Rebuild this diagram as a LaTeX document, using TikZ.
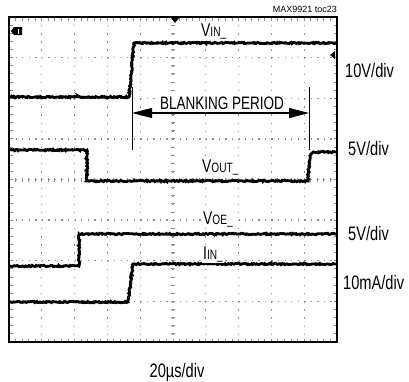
\documentclass[tikz,border=0pt]{standalone}
\usepackage{fontspec}
\setmainfont{Liberation Sans}[FakeStretch=0.75]
\newfontfamily\tagfont{Liberation Sans}
\usetikzlibrary{arrows.meta,decorations.pathmorphing}
\newcommand{\sub}[1]{{\fontsize{13.5}{13.5}\selectfont #1}}
\begin{document}
\begin{tikzpicture}[x=1pt,y=-1pt,
  trace/.style={line width=2.8pt,decorate,decoration={random steps,segment length=1.2pt,amplitude=0.7pt}},
  vdots/.style={black!45,line width=1.3pt,dash pattern=on 1.3pt off 6.82pt},
  hdots/.style={black!45,line width=1.3pt,dash pattern=on 1.3pt off 5.26pt},
  tick/.style={black!45,line width=1pt},
  scale lbl/.style={inner sep=0pt,font=\fontsize{19.5}{19.5}\selectfont},
  sig lbl/.style={inner sep=1pt,fill=white,font=\fontsize{18.5}{18.5}\selectfont}]
 \useasboundingbox (0,0) rectangle (409,381);
 \foreach \i in {1,...,9} \draw[vdots] ({9+32.8*\i},17) -- ({9+32.8*\i},342);
 \foreach \j in {1,...,7} \draw[hdots] (9,{17+40.625*\j}) -- (337,{17+40.625*\j});
 \foreach \k in {1,...,49} {
   \draw[tick] ({9+6.56*\k},17) -- ({9+6.56*\k},20.5);
   \draw[tick] ({9+6.56*\k},342) -- ({9+6.56*\k},338.5);
   \draw[tick] ({9+6.56*\k},177.5) -- ({9+6.56*\k},181.5);
 }
 \foreach \k in {1,...,39} {
   \draw[tick] (9,{17+8.125*\k}) -- (12.5,{17+8.125*\k});
   \draw[tick] (337,{17+8.125*\k}) -- (333.5,{17+8.125*\k});
   \draw[tick] (171,{17+8.125*\k}) -- (175,{17+8.125*\k});
 }
 \draw[line width=2.8pt] (9,17) rectangle (337,342);
 \fill (171,18) -- (179,18) -- (175,23) -- cycle;
 \fill (330,55) -- (335,51) -- (335,59) -- cycle;
 \fill (11,31) -- (14,27) -- (22,27) -- (22,35) -- (14,35) -- cycle;
 \draw[white,line width=0.8pt] (18,28.5) -- (18,33.5);

 \draw[trace] (10,97) -- (129,97) -- (134,43) -- (336,43);
 \draw[trace] (10,150) -- (87,150) -- (87,181) -- (308,181) -- (309,162) -- (310.5,155) -- (314,152) -- (336,152);
 \draw[trace] (10,266) -- (79,266) -- (79,234) -- (336,234);
 \draw[trace] (10,302) -- (128,302) -- (133,264) -- (336,264);

 \coordinate (bl) at (132,113);
 \coordinate (br) at (309,113);
 \draw[line width=1pt] (132,87) -- (132,150) (309,87) -- (309,150);
 \draw[line width=1.2pt,{Triangle[length=20pt,width=10pt]}-{Triangle[length=20pt,width=10pt]}] (bl) -- (br);
 \node[inner sep=1pt,fill=white,anchor=base,font=\fontsize{18}{18}\selectfont] (blank) at (222,109) {BLANKING PERIOD};

 \node[sig lbl,anchor=base west] (vin) at (200,36) {V\sub{IN\_}};
 \node[sig lbl,anchor=base west] (vout) at (201,172) {V\sub{OUT\_}};
 \node[sig lbl,anchor=base west] (voe) at (202,224) {V\sub{OE\_}};
 \node[sig lbl,anchor=base west] (iin) at (202,259) {I\sub{IN\_}};

 \node[scale lbl,anchor=base west] (s1) at (345,77) {10V/div};
 \node[scale lbl,anchor=base west] (s2) at (348,155) {5V/div};
 \node[scale lbl,anchor=base west] (s3) at (348,240) {5V/div};
 \node[scale lbl,anchor=base west] (s4) at (343,289) {10mA/div};
 \node[scale lbl,anchor=base] (tb) at (177,377) {20µs/div};
 \node[inner sep=0pt,anchor=base east,font=\tagfont\fontsize{9}{9}\selectfont] (tag) at (337,12) {MAX9921 toc23};
\end{tikzpicture}
\end{document}
